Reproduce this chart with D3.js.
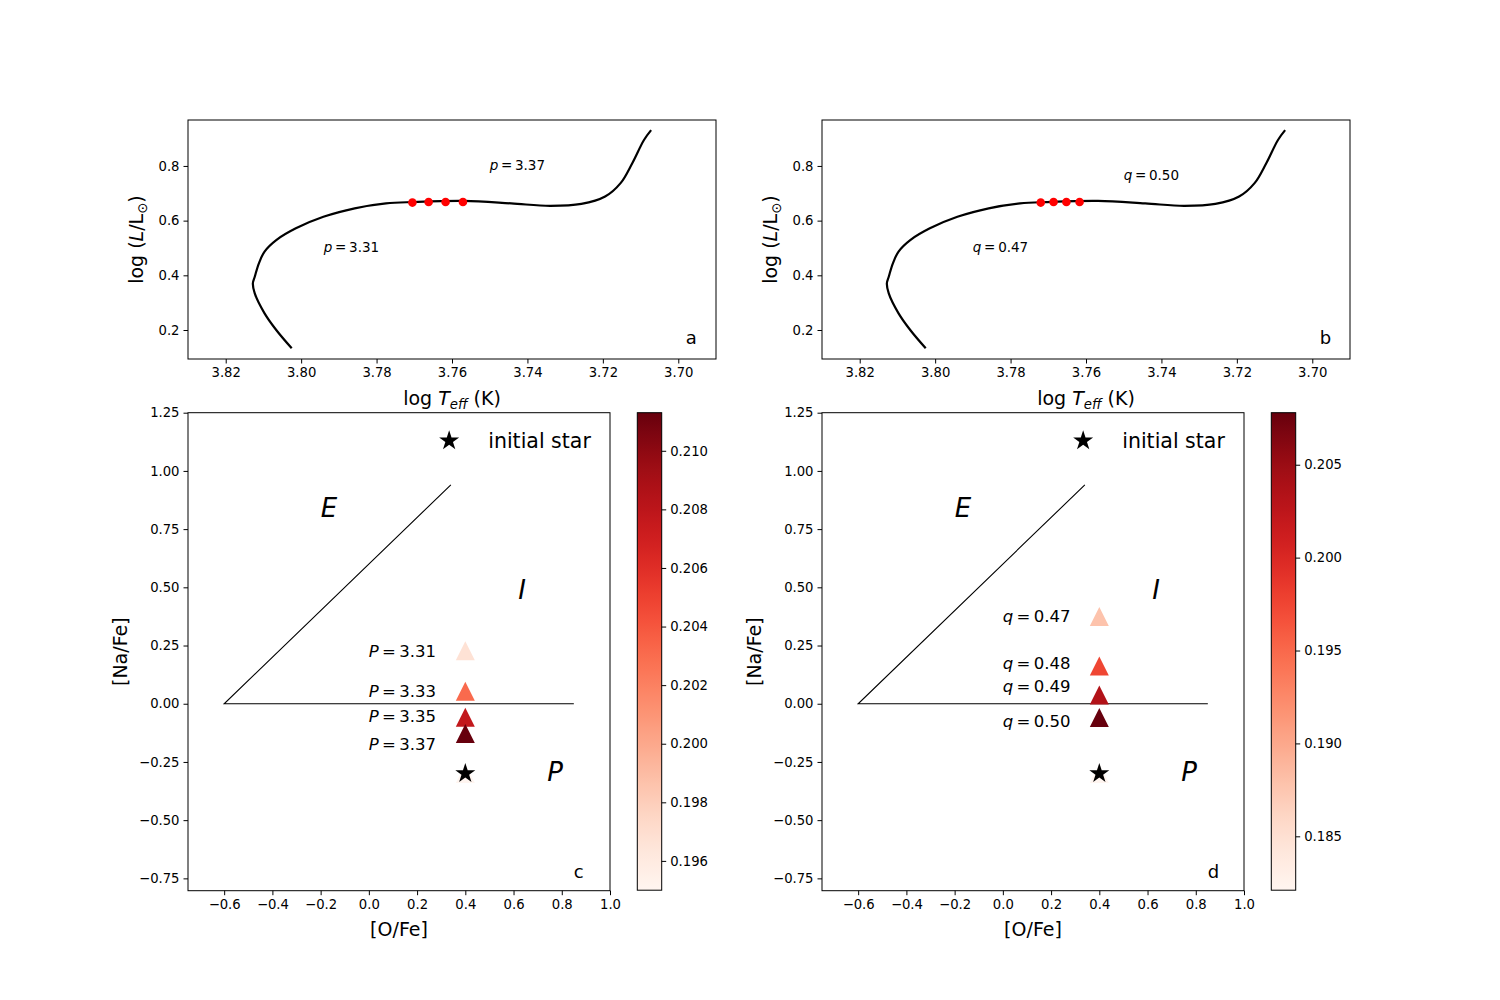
<!DOCTYPE html>
<html>
<head>
<meta charset="utf-8">
<script src="https://cdn.jsdelivr.net/npm/d3@7"></script>
<style>
  body { margin: 0; background: #fff; }
  svg { font-family: "DejaVu Sans", sans-serif; }
</style>
</head>
<body>
<svg id="chart" width="1500" height="1000"></svg>
<script>
// --- evolutionary track, shared by panels a and b (log Teff, log L/Lsun)
const trackLogT = [3.8025, 3.8066, 3.8097, 3.8123, 3.8128, 3.8123, 3.8112, 3.8097, 3.8066, 3.8014,
  3.7941, 3.7858, 3.7775, 3.7703, 3.7568, 3.7443, 3.7340, 3.7257, 3.7194, 3.7153, 3.7122, 3.7091, 3.7072];
const trackLogL = [0.133, 0.200, 0.261, 0.334, 0.371, 0.395, 0.444, 0.487, 0.529, 0.572,
  0.614, 0.645, 0.663, 0.668, 0.672, 0.663, 0.654, 0.661, 0.688, 0.737, 0.810, 0.895, 0.931];

// red points on the track
const dotsALogT = [3.7705, 3.7662, 3.7617, 3.7571];
const dotsALogL = [0.666, 0.668, 0.668, 0.668];
const dotsBLogT = [3.7720, 3.7686, 3.7652, 3.7617];
const dotsBLogL = [0.666, 0.668, 0.668, 0.668];

const hrXTicks = [3.82, 3.80, 3.78, 3.76, 3.74, 3.72, 3.70];
const hrYTicks = [0.2, 0.4, 0.6, 0.8];

// --- abundance panels
const abXTicks = [-0.6, -0.4, -0.2, 0.0, 0.2, 0.4, 0.6, 0.8, 1.0];
const abYTicks = [-0.75, -0.5, -0.25, 0.0, 0.25, 0.5, 0.75, 1.0, 1.25];
const boundaryOFe = [0.34, -0.6, 0.85];
const boundaryNaFe = [0.94, 0.0, 0.0];

// panel c (P series)
const cNames = ['3.31', '3.33', '3.35', '3.37'];
const cOFe = [0.4, 0.4, 0.4, 0.4];
const cNaFe = [0.228, 0.054, -0.058, -0.128];
const cValue = [0.1967, 0.2031, 0.2077, 0.2113];
const cLabelNaFe = [0.20, 0.03, -0.08, -0.20];
const cInitValue = 0.1950;
const cCbarDomain = [0.1950, 0.2113];
const cCbarTicks = [0.196, 0.198, 0.200, 0.202, 0.204, 0.206, 0.208, 0.210];

// panel d (q series)
const dNames = ['0.47', '0.48', '0.49', '0.50'];
const dOFe = [0.4, 0.4, 0.4, 0.4];
const dNaFe = [0.375, 0.162, 0.037, -0.059];
const dValue = [0.1878, 0.1975, 0.2034, 0.2078];
const dLabelNaFe = [0.35, 0.15, 0.05, -0.10];
const dInitValue = 0.1821;
const dCbarDomain = [0.1821, 0.2078];
const dCbarTicks = [0.185, 0.190, 0.195, 0.200, 0.205];

// initial star and its key
const initOFe = 0.4, initNaFe = -0.30;
const keyOFe = 0.333, keyNaFe = 1.13;

const FONT = '"DejaVu Sans", sans-serif';
const TICK_FS = 13.2;
const LABEL_FS = 19;

const svg = d3.select('#chart');

function styleAxis(sel) {
  sel.attr('font-family', FONT).attr('font-size', TICK_FS);
  sel.select('.domain').remove();
  sel.selectAll('.tick line').attr('stroke', '#000');
  sel.selectAll('.tick text').attr('fill', '#000');
}

function frame(g, w, h) {
  g.append('rect').attr('width', w).attr('height', h)
    .attr('fill', 'none').attr('stroke', '#000').attr('stroke-width', 1);
}

function starPath(R) {
  const pts = d3.range(10).map(i => {
    const a = -Math.PI / 2 + i * Math.PI / 5;
    const r = i % 2 === 0 ? R : R * 0.382;
    return [r * Math.cos(a), r * Math.sin(a)];
  });
  return 'M' + pts.map(p => p.join(',')).join('L') + 'Z';
}

function triPath(s) {
  return `M0,${-s / 2}L${s / 2},${s / 2}L${-s / 2},${s / 2}Z`;
}

// --- HR diagram panels
function drawHR(cfg) {
  const g = svg.append('g').attr('transform', `translate(${cfg.left},${cfg.top})`);
  const w = 528, h = 239;
  const x = d3.scaleLinear().domain([3.83, 3.69]).range([0, w]);
  const y = d3.scaleLinear().domain([0.094, 0.968]).range([h, 0]);

  const line = d3.line().curve(d3.curveCatmullRom.alpha(0.5))
    .x((d, i) => x(trackLogT[i])).y((d, i) => y(trackLogL[i]));
  g.append('path').datum(trackLogT).attr('d', line)
    .attr('fill', 'none').attr('stroke', '#000').attr('stroke-width', 2.2);

  g.selectAll('circle.dot').data(cfg.dotsT).join('circle').attr('class', 'dot')
    .attr('cx', d => x(d)).attr('cy', (d, i) => y(cfg.dotsL[i]))
    .attr('r', 4.3).attr('fill', '#ff0000');

  cfg.notes.forEach(n => {
    const t = g.append('text').attr('x', x(n.x)).attr('y', y(n.y))
      .attr('font-size', 13.5).attr('fill', '#000');
    t.append('tspan').attr('font-style', 'italic').text(n.sym);
    t.append('tspan').text('\u2009=\u2009' + n.val);
  });

  g.append('text').attr('x', x(3.698)).attr('y', y(0.15))
    .attr('font-size', 18).text(cfg.letter);

  frame(g, w, h);
  g.append('g').attr('transform', `translate(0,${h})`)
    .call(d3.axisBottom(x).tickValues(hrXTicks).tickFormat(d3.format('.2f')).tickSize(4.5).tickPadding(4))
    .call(styleAxis);
  g.append('g')
    .call(d3.axisLeft(y).tickValues(hrYTicks).tickFormat(d3.format('.1f')).tickSize(4.5).tickPadding(4))
    .call(styleAxis);

  const xl = g.append('text').attr('x', w / 2).attr('y', h + 46)
    .attr('text-anchor', 'middle').attr('font-size', LABEL_FS);
  xl.append('tspan').text('log ');
  xl.append('tspan').attr('font-style', 'italic').text('T');
  xl.append('tspan').attr('font-style', 'italic').attr('font-size', LABEL_FS * 0.7).attr('dy', 4).text('eff');
  xl.append('tspan').attr('dy', -4).text(' (K)');

  const yl = g.append('text').attr('transform', `translate(-45,${h / 2}) rotate(-90)`)
    .attr('text-anchor', 'middle').attr('font-size', LABEL_FS);
  yl.append('tspan').text('log (');
  yl.append('tspan').attr('font-style', 'italic').text('L');
  yl.append('tspan').text('/L');
  yl.append('tspan').attr('font-size', LABEL_FS * 0.7).attr('dy', 4).text('\u2299');
  yl.append('tspan').attr('dy', -4).text(')');
}

// --- abundance panels
function drawAbund(cfg) {
  const g = svg.append('g').attr('transform', `translate(${cfg.left},412.7)`);
  const w = 422, h = 478;
  const x = d3.scaleLinear().domain([-0.75, 1.0]).range([0, w]);
  const y = d3.scaleLinear().domain([-0.803, 1.25]).range([h, 0]);
  const color = d3.scaleSequential(d3.interpolateReds).domain(cfg.domain);

  g.append('path').datum(boundaryOFe)
    .attr('d', d3.line().x((d, i) => x(boundaryOFe[i])).y((d, i) => y(boundaryNaFe[i])))
    .attr('fill', 'none').attr('stroke', '#000').attr('stroke-width', 1.1);

  // region letters
  [['E', -0.2, 0.8], ['I', 0.62, 0.45], ['P', 0.74, -0.33]].forEach(r => {
    g.append('text').attr('x', x(r[1])).attr('y', y(r[2]))
      .attr('font-size', 26).attr('font-style', 'italic').text(r[0]);
  });

  // initial star key
  g.append('path').attr('d', starPath(10.5))
    .attr('transform', `translate(${x(keyOFe)},${y(keyNaFe)})`).attr('fill', '#000');
  g.append('text').attr('x', x(0.495)).attr('y', y(1.097))
    .attr('font-size', 20.5).text('initial star');

  // initial star position (coloured point hidden under the star)
  g.append('path').attr('d', triPath(19))
    .attr('transform', `translate(${x(initOFe)},${y(initNaFe)})`).attr('fill', color(cfg.initValue));

  g.selectAll('path.tri').data(cfg.value).join('path').attr('class', 'tri')
    .attr('d', triPath(19))
    .attr('transform', (d, i) => `translate(${x(cfg.ofe[i])},${y(cfg.nafe[i])})`)
    .attr('fill', d => color(d));

  g.append('path').attr('d', starPath(10.5))
    .attr('transform', `translate(${x(initOFe)},${y(initNaFe)})`).attr('fill', '#000');

  cfg.names.forEach((n, i) => {
    const t = g.append('text').attr('x', x(0.0)).attr('y', y(cfg.labelY[i])).attr('font-size', 16.5);
    t.append('tspan').attr('font-style', 'italic').text(cfg.sym);
    t.append('tspan').text('\u2009=\u2009' + n);
  });

  g.append('text').attr('x', x(0.85)).attr('y', y(-0.75)).attr('font-size', 18).text(cfg.letter);

  frame(g, w, h);
  g.append('g').attr('transform', `translate(0,${h})`)
    .call(d3.axisBottom(x).tickValues(abXTicks).tickFormat(d3.format('.1f')).tickSize(4.5).tickPadding(4))
    .call(styleAxis);
  g.append('g')
    .call(d3.axisLeft(y).tickValues(abYTicks).tickFormat(d3.format('.2f')).tickSize(4.5).tickPadding(4))
    .call(styleAxis);

  g.append('text').attr('x', w / 2).attr('y', h + 45).attr('text-anchor', 'middle')
    .attr('font-size', LABEL_FS).text('[O/Fe]');
  g.append('text').attr('transform', `translate(-61,${h / 2}) rotate(-90)`)
    .attr('text-anchor', 'middle').attr('font-size', LABEL_FS).text('[Na/Fe]');

  // colorbar
  const cb = svg.append('g').attr('transform', `translate(${cfg.left + 449.3},412.7)`);
  const cbw = 24.4, cbh = 477.5;
  const gid = 'grad' + cfg.letter;
  const grad = svg.append('defs').append('linearGradient').attr('id', gid)
    .attr('x1', 0).attr('y1', 1).attr('x2', 0).attr('y2', 0);
  d3.range(0, 1.0001, 0.02).forEach(t => {
    grad.append('stop').attr('offset', t).attr('stop-color', d3.interpolateReds(t));
  });
  cb.append('rect').attr('width', cbw).attr('height', cbh).attr('fill', `url(#${gid})`);
  frame(cb, cbw, cbh);
  const cy = d3.scaleLinear().domain(cfg.domain).range([cbh, 0]);
  cb.append('g').attr('transform', `translate(${cbw},0)`)
    .call(d3.axisRight(cy).tickValues(cfg.ticks).tickFormat(d3.format('.3f')).tickSize(4.5).tickPadding(4))
    .call(styleAxis);
}

drawHR({
  left: 188, top: 120, dotsT: dotsALogT, dotsL: dotsALogL, letter: 'a',
  notes: [{ x: 3.75, y: 0.785, sym: 'p', val: '3.37' }, { x: 3.794, y: 0.487, sym: 'p', val: '3.31' }]
});
drawHR({
  left: 822, top: 120, dotsT: dotsBLogT, dotsL: dotsBLogL, letter: 'b',
  notes: [{ x: 3.75, y: 0.748, sym: 'q', val: '0.50' }, { x: 3.79, y: 0.487, sym: 'q', val: '0.47' }]
});
drawAbund({
  left: 188, letter: 'c', sym: 'P', names: cNames, ofe: cOFe, nafe: cNaFe, value: cValue,
  labelY: cLabelNaFe, initValue: cInitValue, domain: cCbarDomain, ticks: cCbarTicks
});
drawAbund({
  left: 822, letter: 'd', sym: 'q', names: dNames, ofe: dOFe, nafe: dNaFe, value: dValue,
  labelY: dLabelNaFe, initValue: dInitValue, domain: dCbarDomain, ticks: dCbarTicks
});
</script>
</body>
</html>
